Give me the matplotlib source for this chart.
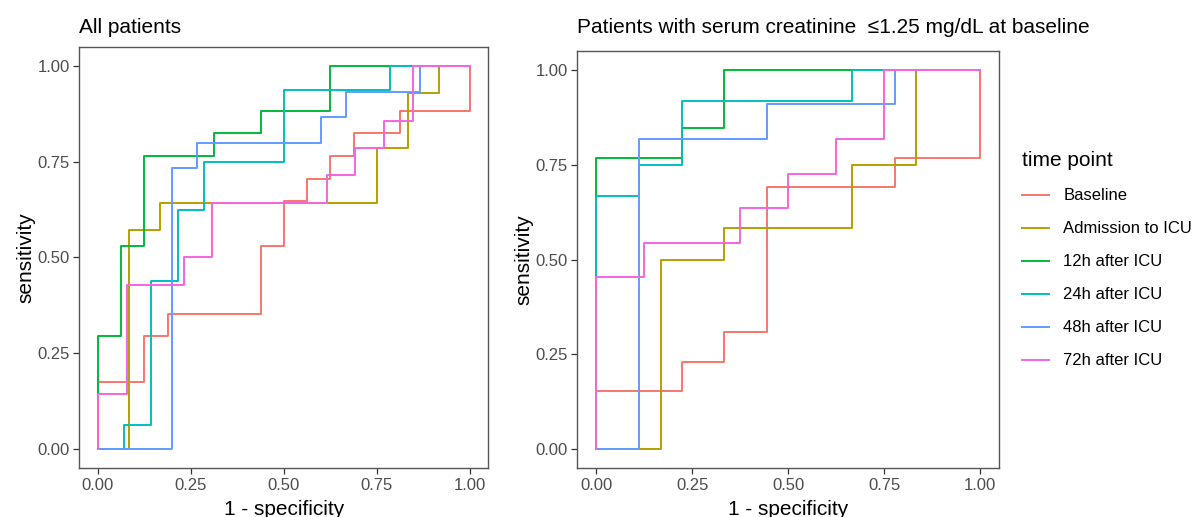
import matplotlib

matplotlib.use("Agg")
import matplotlib.pyplot as plt
from matplotlib.lines import Line2D

plt.rcParams["font.family"] = ["Liberation Sans", "DejaVu Sans"]

TIME_POINTS = [
    "Baseline",
    "Admission to ICU",
    "12h after ICU",
    "24h after ICU",
    "48h after ICU",
    "72h after ICU",
]
COLORS = ["#F8766D", "#B79F00", "#00BA38", "#00BFC4", "#619CFF", "#F564E3"]

# ROC corners (1 - specificity, sensitivity) at the top of each rise, all patients
ALL_BASELINE_FPR = [0, 0, 0.125, 0.188, 0.438, 0.5, 0.563, 0.625, 0.688, 0.813, 1]
ALL_BASELINE_TPR = [0, 0.176, 0.294, 0.353, 0.529, 0.647, 0.706, 0.765, 0.824, 0.882, 1]
ALL_ADMISSION_FPR = [0, 0.083, 0.167, 0.75, 0.833, 0.917, 1]
ALL_ADMISSION_TPR = [0, 0.571, 0.643, 0.786, 0.929, 1, 1]
ALL_12H_FPR = [0, 0, 0.063, 0.125, 0.313, 0.438, 0.625, 1]
ALL_12H_TPR = [0, 0.294, 0.529, 0.765, 0.824, 0.882, 1, 1]
ALL_24H_FPR = [0, 0.071, 0.143, 0.214, 0.286, 0.5, 0.786, 1]
ALL_24H_TPR = [0, 0.063, 0.438, 0.625, 0.75, 0.938, 1, 1]
ALL_48H_FPR = [0, 0.2, 0.267, 0.6, 0.667, 0.867, 1]
ALL_48H_TPR = [0, 0.733, 0.8, 0.867, 0.933, 1, 1]
ALL_72H_FPR = [0, 0, 0.077, 0.231, 0.308, 0.615, 0.692, 0.769, 0.846, 1]
ALL_72H_TPR = [0, 0.143, 0.429, 0.5, 0.643, 0.714, 0.786, 0.857, 1, 1]

# same curves for patients with serum creatinine <= 1.25 mg/dL at baseline
SCR_BASELINE_FPR = [0, 0, 0.222, 0.333, 0.444, 0.778, 1]
SCR_BASELINE_TPR = [0, 0.154, 0.231, 0.308, 0.692, 0.769, 1]
SCR_ADMISSION_FPR = [0, 0.167, 0.333, 0.667, 0.833, 1]
SCR_ADMISSION_TPR = [0, 0.5, 0.583, 0.75, 1, 1]
SCR_12H_FPR = [0, 0, 0.222, 0.333, 1]
SCR_12H_TPR = [0, 0.769, 0.846, 1, 1]
SCR_24H_FPR = [0, 0, 0.111, 0.222, 0.667, 1]
SCR_24H_TPR = [0, 0.667, 0.75, 0.917, 1, 1]
SCR_48H_FPR = [0, 0.111, 0.444, 0.778, 1]
SCR_48H_TPR = [0, 0.818, 0.909, 1, 1]
SCR_72H_FPR = [0, 0, 0.125, 0.375, 0.5, 0.625, 0.75, 1]
SCR_72H_TPR = [0, 0.455, 0.545, 0.636, 0.727, 0.818, 1, 1]

TICKS = [0, 0.25, 0.5, 0.75, 1]
TICK_LABELS = ["0.00", "0.25", "0.50", "0.75", "1.00"]


def draw_panel(ax, curves, title, title_pad):
    for (fpr, tpr), color in zip(curves, COLORS):
        ax.step(fpr, tpr, where="post", color=color, lw=1.4)
    ax.set_xlim(-0.05, 1.05)
    ax.set_ylim(-0.05, 1.05)
    ax.set_xticks(TICKS)
    ax.set_xticklabels(TICK_LABELS)
    ax.set_yticks(TICKS)
    ax.set_yticklabels(TICK_LABELS)
    ax.tick_params(length=4, width=0.9, color="#333333", labelsize=12,
                   labelcolor="#4d4d4d", pad=3)
    for spine in ax.spines.values():
        spine.set_color("#555555")
        spine.set_linewidth(1.0)
    ax.set_xlabel("1 - specificity", fontsize=15, labelpad=5)
    ax.set_ylabel("sensitivity", fontsize=15, labelpad=1)
    ax.set_title(title, loc="left", fontsize=15, pad=title_pad)


fig = plt.figure(figsize=(11.95, 5.17), dpi=100)
ax_all = fig.add_axes([0.0664, 0.0942, 0.3423, 0.8155])
ax_scr = fig.add_axes([0.4831, 0.0942, 0.3531, 0.8072])

all_curves = [
    (ALL_BASELINE_FPR, ALL_BASELINE_TPR),
    (ALL_ADMISSION_FPR, ALL_ADMISSION_TPR),
    (ALL_12H_FPR, ALL_12H_TPR),
    (ALL_24H_FPR, ALL_24H_TPR),
    (ALL_48H_FPR, ALL_48H_TPR),
    (ALL_72H_FPR, ALL_72H_TPR),
]
scr_curves = [
    (SCR_BASELINE_FPR, SCR_BASELINE_TPR),
    (SCR_ADMISSION_FPR, SCR_ADMISSION_TPR),
    (SCR_12H_FPR, SCR_12H_TPR),
    (SCR_24H_FPR, SCR_24H_TPR),
    (SCR_48H_FPR, SCR_48H_TPR),
    (SCR_72H_FPR, SCR_72H_TPR),
]

draw_panel(ax_all, all_curves, "All patients", 10)
draw_panel(ax_scr, scr_curves,
           "Patients with serum creatinine  \u22641.25 mg/dL at baseline", 13)

handles = [Line2D([], [], color=c, lw=1.4) for c in COLORS]
fig.legend(handles, TIME_POINTS, loc="upper left",
           bbox_to_anchor=(1014 / 1195, 1 - 143 / 517),
           frameon=False, fontsize=12, title="time point", title_fontsize=15,
           alignment="left", borderpad=0, handlelength=1.62,
           handletextpad=0.84, labelspacing=1.08)

fig.savefig("out.png", dpi=100)
